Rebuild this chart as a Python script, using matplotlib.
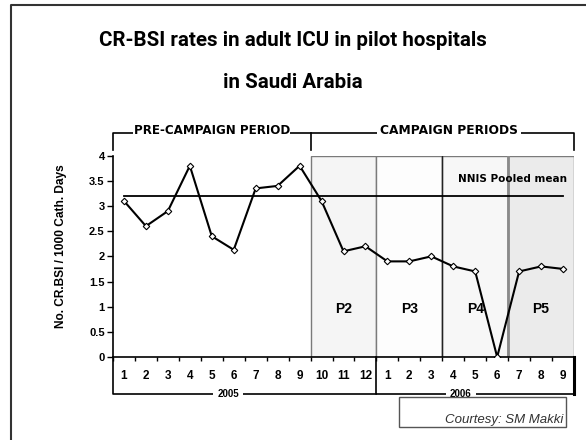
import numpy as np
import matplotlib
matplotlib.use("Agg")
import matplotlib.pyplot as plt
from matplotlib.lines import Line2D
from matplotlib.patches import Rectangle

# data
months = ["1", "2", "3", "4", "5", "6", "7", "8", "9", "10", "11", "12",
          "1", "2", "3", "4", "5", "6", "7", "8", "9"]
rates = [3.1, 2.6, 2.9, 3.8, 2.4, 2.13, 3.35, 3.4, 3.8, 3.1, 2.1, 2.2,
         1.9, 1.9, 2.0, 1.8, 1.7, 0.0, 1.7, 1.8, 1.75]
nnis_mean = 3.2
periods = ["P2", "P3", "P4", "P5"]
period_start = [9, 12, 15, 18]   # index of first month of each campaign period
period_colors = ["#f5f5f5", "#fdfdfd", "#f7f7f7", "#ebebeb"]
years = ["2005", "2006"]
year_start = [0, 12]

W, H = 586, 440
fig = plt.figure(figsize=(W / 100, H / 100), dpi=100)

def fx(x):
    return x / W

def fy(y):
    return 1 - y / H

ax_l, ax_r, ax_b, ax_t = 113, 574, 357, 155.7
ax = fig.add_axes([fx(ax_l), fy(ax_b), (ax_r - ax_l) / W, (ax_b - ax_t) / H])

n = len(rates)
x = np.arange(n)
ax.set_xlim(-0.5, n - 0.5)
ax.set_ylim(0, 4)

# shaded campaign periods
edges = [s - 0.5 for s in period_start] + [n - 0.5]
for i, lab in enumerate(periods):
    ax.axvspan(edges[i], edges[i + 1], ymin=0, ymax=1, facecolor=period_colors[i],
               edgecolor="#7a7a7a", linewidth=1, zorder=0)
    ax.text((edges[i] + edges[i + 1]) / 2, 0.95, lab, ha="center", va="center",
            fontsize=10, fontweight="bold", family="Liberation Sans", zorder=4)
ax.axvline(edges[2], color="#222222", linewidth=1, zorder=1)
ax.axvline(edges[3], color="#8a8a8a", linewidth=2, zorder=1)

# NNIS pooled mean
ax.plot([x[0], x[-1]], [nnis_mean, nnis_mean], color="black", linewidth=1.3, zorder=2)
ax.text(x[-1] + 0.2, 3.53, "NNIS Pooled mean", ha="right", va="center",
        fontsize=7.5, fontweight="bold", family="DejaVu Sans", zorder=4)

# rates
ax.plot(x, rates, color="black", linewidth=1.5, marker="D", markersize=3.3,
        markerfacecolor="white", markeredgecolor="black", markeredgewidth=0.8, zorder=3)

# axes styling
for s in ["top", "right"]:
    ax.spines[s].set_visible(False)
ax.spines["left"].set_linewidth(1.2)
ax.spines["bottom"].set_linewidth(1.2)
ax.set_yticks(np.arange(0, 4.01, 0.5))
ax.set_yticklabels(["0", "0.5", "1", "1.5", "2", "2.5", "3", "3.5", "4"])
ax.set_xticks(x)
ax.set_xticklabels(months)
ax.set_xticks(np.arange(-0.5, n, 1), minor=True)
ax.tick_params(axis="x", which="major", length=0, pad=9)
ax.tick_params(axis="x", which="minor", length=3, width=1, direction="out")
ax.tick_params(axis="y", length=4, width=1, pad=2)
for t in ax.get_xticklabels():
    t.set_fontweight("bold")
    t.set_fontsize(8.5)
    t.set_family("Liberation Sans")
for t in ax.get_yticklabels():
    t.set_fontweight("bold")
    t.set_fontsize(8)
    t.set_family("Liberation Sans")
ax.set_ylabel("No. CR.BSI / 1000 Cath. Days", fontsize=8.6, fontweight="bold",
              family="Liberation Sans")
ax.yaxis.set_label_coords((66.7 - ax_l) / (ax_r - ax_l), 0.55)

# year brackets below the axis
tr = ax.get_xaxis_transform()
yb = (ax_b - 394) / (ax_b - ax_t)
ybounds = [s - 0.5 for s in year_start] + [n - 0.5]
yr_shift = [-0.75, -0.65]
for i, yr in enumerate(years):
    a, b = ybounds[i], ybounds[i + 1]
    ax.plot([a, a, b], [0, yb, yb], color="black", linewidth=1.2, transform=tr, clip_on=False)
    ax.text((a + b) / 2 + yr_shift[i], yb, yr, ha="center", va="center", fontsize=7,
            fontweight="bold", family="Liberation Sans", transform=tr,
            bbox=dict(facecolor="white", edgecolor="none", pad=3))
ax.plot([ybounds[-1], ybounds[-1]], [0, yb], color="black", linewidth=2.2, transform=tr,
        clip_on=False)

# period brackets above
yt = (ax_b - 132.7) / (ax_b - ax_t)
yt2 = (ax_b - 150) / (ax_b - ax_t)
pre_end = period_start[0] - 0.5
ax.plot([-0.5, -0.5, n - 0.5, n - 0.5], [yt2, yt, yt, yt2], color="black", linewidth=1.2,
        transform=tr, clip_on=False)
ax.plot([pre_end, pre_end], [yt, yt2], color="black", linewidth=1.2, transform=tr, clip_on=False)
ax.text((-0.5 + pre_end) / 2, yt + 0.012, "PRE-CAMPAIGN PERIOD", ha="center", va="center",
        fontsize=8.6, fontweight="bold", family="DejaVu Sans", transform=tr,
        bbox=dict(facecolor="white", edgecolor="none", pad=0.3))
ax.text((pre_end + n - 0.5) / 2 + 0.3, yt + 0.012, "CAMPAIGN PERIODS", ha="center", va="center",
        fontsize=8.8, fontweight="bold", family="DejaVu Sans", transform=tr,
        bbox=dict(facecolor="white", edgecolor="none", pad=2))

# titles
title_font = ["Roboto", "Liberation Sans"]
fig.text(0.5, fy(41), "CR-BSI rates in adult ICU in pilot hospitals", ha="center", va="center",
         fontsize=14.8, fontweight="bold", family=title_font)
fig.text(0.5, fy(83), "in Saudi Arabia", ha="center", va="center",
         fontsize=14.8, fontweight="bold", family=title_font)

# courtesy box
fig.add_artist(Rectangle((fx(399), fy(426.7)), (565.7 - 399) / W, (426.7 - 396.7) / H,
                         transform=fig.transFigure, facecolor="none", edgecolor="#555555",
                         linewidth=1))
fig.text(fx(563), fy(423), "Courtesy: SM Makki", ha="right", va="baseline",
         fontsize=9.5, style="italic", color="#333333", family="Liberation Sans")

# outer frame (left and top visible)
fig.add_artist(Line2D([fx(10.5), fx(10.5), 1], [0, fy(5), fy(5)], transform=fig.transFigure,
                      color="#333333", linewidth=1.5))

fig.savefig("out.png", dpi=100)
